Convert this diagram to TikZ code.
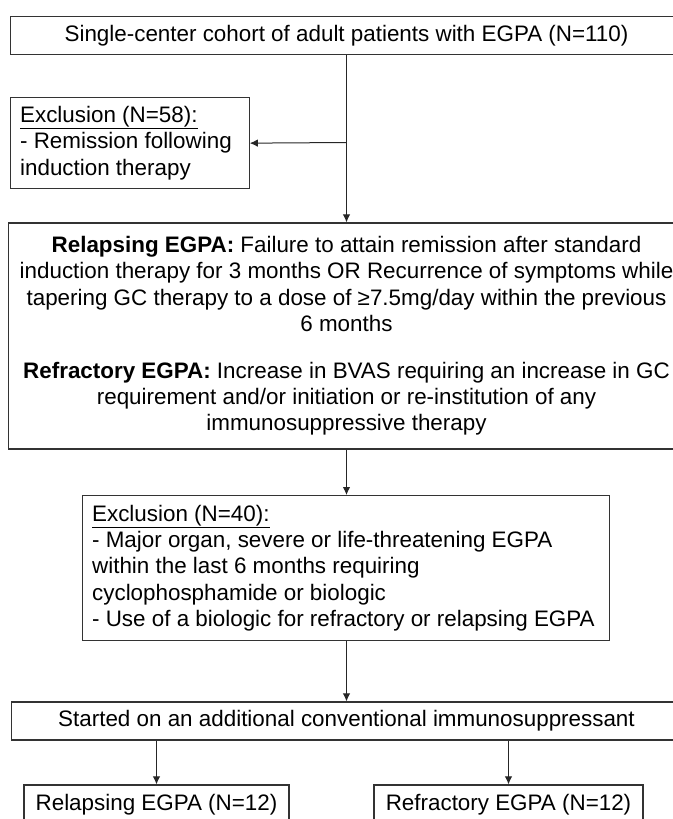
\documentclass[tikz,border=0pt]{standalone}
\usepackage{fontspec}
\setmainfont{Liberation Sans}
\usetikzlibrary{arrows.meta}
\tikzstyle{flowbox} = [draw=black!80, line width=1.3pt, inner xsep=9.5pt, inner ysep=0pt, font=\fontsize{22.4}{26.4}\selectfont]
\tikzstyle{arrow} = [draw=black!85, line width=1pt, ->, >={Latex[length=8pt,width=7.5pt]}]

\begin{document}
\begin{tikzpicture}[x=1pt,y=-1pt]
\useasboundingbox (0,0) rectangle (672,819);

%% Boxes of the flow chart
\node [flowbox, minimum width=672pt, minimum height=38pt] (cohort) at (346.5,35.5)
	{Single-center cohort of adult patients with EGPA (N=110)};

\node [flowbox, anchor=north west, text width=219.5pt, align=flush left, minimum height=91pt] (excla) at (10,97)
	{\underline{Exclusion (N=58):}\\- Remission following\\induction therapy};

\node [flowbox, minimum width=676pt, minimum height=226pt, align=center] (criteria) at (346.5,336)
	{\textbf{Relapsing EGPA:} Failure to attain remission after standard\\
	 induction therapy for 3 months OR Recurrence of symptoms while\\
	 tapering GC therapy to a dose of ≥7.5mg/day within the previous\\
	 6 months\\[20pt]
	 \textbf{Refractory EGPA:} Increase in BVAS requiring an increase in GC\\
	 requirement and/or initiation or re-institution of any\\
	 immunosuppressive therapy};

\node [flowbox, anchor=north west, text width=508pt, align=flush left, minimum height=145pt] (exclb) at (82,495)
	{\underline{Exclusion (N=40):}\\
	 - Major organ, severe or life-threatening EGPA\\
	 within the last 6 months requiring\\
	 cyclophosphamide or biologic\\
	 \mbox{- Use of a biologic for refractory or relapsing EGPA}};

\node [flowbox, minimum width=670pt, minimum height=38pt] (started) at (346.5,721)
	{Started on an additional conventional immunosuppressant};

\node [flowbox, minimum width=265pt, minimum height=40pt] (relapse) at (156.5,805)
	{Relapsing EGPA (N=12)};
\node [flowbox, minimum width=269pt, minimum height=40pt] (refract) at (508.5,805)
	{Refractory EGPA (N=12)};

%% Connectors
\coordinate (split) at (346.5,142.5);
\draw [arrow] (cohort) -- (criteria);
\draw [arrow] (split) -- (excla.east);
\draw [arrow] (criteria.south) -- (exclb.north -| criteria);
\draw [arrow] (exclb.south -| started) -- (started);
\draw [arrow] (started.south -| relapse) -- (relapse);
\draw [arrow] (started.south -| refract) -- (refract);

\end{tikzpicture}
\end{document}
